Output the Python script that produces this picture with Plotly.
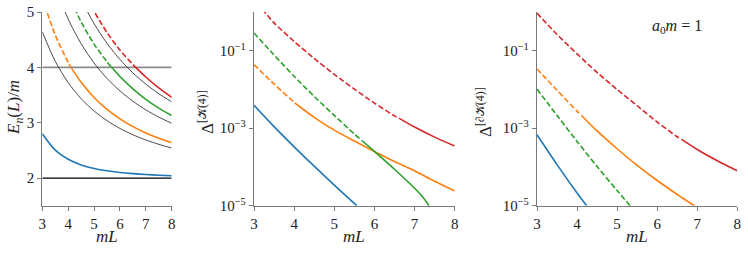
import numpy as np
import plotly.graph_objects as go

# ---------------- data ----------------
BLUE, ORANGE, GREEN, RED = "#1f77b4", "#ff7f0e", "#2ca02c", "#d62728"

# Left panel: E_n(L)/m
L_grid = [3.0, 3.5, 4.0, 4.5, 5.0, 5.5, 6.0, 6.5, 7.0, 7.5, 8.0]
free1 = [4.642, 4.110, 3.724, 3.435, 3.212, 3.037, 2.896, 2.782, 2.688, 2.609, 2.543]
free2_L = [3.5, 4.0, 4.5, 5.0, 5.5, 6.0, 6.5, 7.0, 7.5, 8.0]
free2 = [5.457, 4.872, 4.427, 4.078, 3.800, 3.574, 3.388, 3.232, 3.101, 2.989]
free3_L = [4.0, 4.5, 5.0, 5.5, 6.0, 6.5, 7.0, 7.5, 8.0]
free3 = [5.797, 5.234, 4.791, 4.434, 4.142, 3.900, 3.697, 3.524, 3.377]
thresholds = [2.0, 4.0]

E_blue = [2.800, 2.504, 2.338, 2.237, 2.173, 2.130, 2.100, 2.079, 2.063, 2.051, 2.042]
E_orange_dash_L = [3.0, 3.5, 4.0, 4.11]
E_orange_dash = [5.254, 4.584, 4.090, 4.000]
E_orange_L = [4.11, 4.5, 5.0, 5.5, 6.0, 6.5, 7.0, 7.5, 8.0]
E_orange = [4.000, 3.729, 3.454, 3.240, 3.069, 2.929, 2.815, 2.720, 2.640]
E_green_dash_L = [4.0, 4.5, 5.0, 5.5, 5.68]
E_green_dash = [5.336, 4.821, 4.420, 4.101, 4.000]
E_green_L = [5.68, 6.0, 6.5, 7.0, 7.5, 8.0]
E_green = [4.000, 3.834, 3.612, 3.423, 3.264, 3.130]
E_red_dash_L = [4.5, 5.0, 5.5, 6.0, 6.5, 6.61]
E_red_dash = [5.496, 5.016, 4.630, 4.314, 4.051, 4.000]
E_red_L = [6.61, 7.0, 7.5, 8.0]
E_red = [4.000, 3.826, 3.628, 3.460]

# Middle panel: log10 Delta^[K(4)]
mid_blue_L = [3.0, 3.5, 4.0, 4.5, 5.0, 5.56]
mid_blue_log = [-2.41, -2.96, -3.48, -3.98, -4.47, -5.0]
mid_orange_dash_L = [3.0, 3.5, 4.0, 4.11]
mid_orange_dash_log = [-1.36, -1.86, -2.33, -2.42]
mid_orange_L = [4.11, 4.5, 5.0, 5.5, 6.0, 6.5, 7.0, 7.5, 8.0]
mid_orange_log = [-2.42, -2.72, -3.05, -3.33, -3.60, -3.86, -4.10, -4.37, -4.62]
mid_green_dash_L = [3.0, 3.5, 4.0, 4.5, 5.0, 5.5, 5.68]
mid_green_dash_log = [-0.54, -1.11, -1.66, -2.18, -2.67, -3.15, -3.31]
mid_green_L = [5.68, 6.0, 6.5, 7.0, 7.2, 7.36]
mid_green_log = [-3.31, -3.60, -4.06, -4.55, -4.77, -5.0]
mid_red_dash_L = [3.2, 3.5, 4.0, 4.5, 5.0, 5.5, 6.0, 6.5, 6.61]
mid_red_dash_log = [0.08, -0.28, -0.76, -1.20, -1.61, -1.99, -2.35, -2.68, -2.74]
mid_red_L = [6.61, 7.0, 7.5, 8.0]
mid_red_log = [-2.74, -2.97, -3.23, -3.46]

# Right panel: log10 Delta^[dK(4)]
rgt_blue_L = [3.0, 3.5, 4.0, 4.24]
rgt_blue_log = [-3.17, -3.94, -4.67, -5.0]
rgt_orange_dash_L = [3.0, 3.5, 4.0, 4.11]
rgt_orange_dash_log = [-1.47, -2.02, -2.56, -2.67]
rgt_orange_L = [4.11, 4.5, 5.0, 5.5, 6.0, 6.5, 6.93]
rgt_orange_log = [-2.67, -3.07, -3.53, -3.96, -4.35, -4.71, -5.0]
rgt_green_dash_L = [3.0, 3.5, 4.0, 4.5, 5.0, 5.35]
rgt_green_dash_log = [-1.99, -2.67, -3.34, -3.99, -4.61, -5.03]
rgt_red_dash_L = [3.0, 3.5, 4.0, 4.5, 5.0, 5.5, 6.0, 6.5, 6.61]
rgt_red_dash_log = [-0.03, -0.58, -1.08, -1.56, -2.00, -2.42, -2.84, -3.22, -3.29]
rgt_red_L = [6.61, 7.0, 7.5, 8.0]
rgt_red_log = [-3.29, -3.55, -3.84, -4.10]

x_ticks = [3, 4, 5, 6, 7, 8]
left_y_ticks = [2, 3, 4, 5]
log_ticks = [1e-5, 1e-3, 1e-1]
log_tick_text = ["10<sup>−5</sup>", "10<sup>−3</sup>", "10<sup>−1</sup>"]

# ---------------- figure ----------------
W, H = 748, 255
FONT = "Liberation Serif, DejaVu Serif, serif"
AX = "#7a7a7a"
DASH = "5.5px,2.5px"
LW = 1.6

fig = go.Figure()


def add(x, y, color, panel, dash="solid", width=LW):
    fig.add_trace(go.Scatter(
        x=x, y=y, mode="lines", xaxis="x" + panel, yaxis="y" + panel,
        line=dict(color=color, width=width, dash=dash, shape="spline", smoothing=0.8),
        showlegend=False, hoverinfo="skip"))


def to_val(logs):
    return list(10.0 ** np.array(logs))


# left panel
add([3, 8], [thresholds[0]] * 2, "#000000", "", width=1.2)
add([3, 8], [thresholds[1]] * 2, "#8a8a8a", "", width=1.6)
add(L_grid, free1, "#2a2a2a", "", width=0.85)
add(free2_L, free2, "#2a2a2a", "", width=0.85)
add(free3_L, free3, "#2a2a2a", "", width=0.85)
add(L_grid, E_blue, BLUE, "")
add(E_orange_dash_L, E_orange_dash, ORANGE, "", DASH)
add(E_orange_L, E_orange, ORANGE, "")
add(E_green_dash_L, E_green_dash, GREEN, "", DASH)
add(E_green_L, E_green, GREEN, "")
add(E_red_dash_L, E_red_dash, RED, "", DASH)
add(E_red_L, E_red, RED, "")

# middle panel
add(mid_blue_L, to_val(mid_blue_log), BLUE, "2")
add(mid_orange_dash_L, to_val(mid_orange_dash_log), ORANGE, "2", DASH)
add(mid_orange_L, to_val(mid_orange_log), ORANGE, "2")
add(mid_green_dash_L, to_val(mid_green_dash_log), GREEN, "2", DASH)
add(mid_green_L, to_val(mid_green_log), GREEN, "2")
add(mid_red_dash_L, to_val(mid_red_dash_log), RED, "2", DASH)
add(mid_red_L, to_val(mid_red_log), RED, "2")

# right panel
add(rgt_blue_L, to_val(rgt_blue_log), BLUE, "3")
add(rgt_orange_dash_L, to_val(rgt_orange_dash_log), ORANGE, "3", DASH)
add(rgt_orange_L, to_val(rgt_orange_log), ORANGE, "3")
add(rgt_green_dash_L, to_val(rgt_green_dash_log), GREEN, "3", DASH)
add(rgt_red_dash_L, to_val(rgt_red_dash_log), RED, "3", DASH)
add(rgt_red_L, to_val(rgt_red_log), RED, "3")

ydom = [1 - 205.7 / H, 1 - 12 / H]
xdoms = [[42.3 / W, 171.7 / W], [254 / W, 454.7 / W], [537 / W, 737.3 / W]]

common = dict(showline=True, linecolor=AX, linewidth=1.3, ticks="outside",
              ticklen=4, tickwidth=1, tickcolor=AX, showgrid=False, automargin=False,
              zeroline=False, tickfont=dict(family=FONT, size=15, color="#222"))

layout = dict(width=W, height=H, margin=dict(l=0, r=0, t=0, b=0, pad=0),
              template="none",
              paper_bgcolor="white", plot_bgcolor="white", showlegend=False)
for i, (sfx, dom) in enumerate(zip(["", "2", "3"], xdoms)):
    layout["xaxis" + sfx] = dict(common, domain=dom, range=[3, 8], tickvals=x_ticks,
                                 anchor="y" + sfx)
    if i == 0:
        layout["yaxis" + sfx] = dict(common, domain=ydom, range=[1.5, 5],
                                     tickvals=left_y_ticks, anchor="x" + sfx)
    else:
        layout["yaxis" + sfx] = dict(common, domain=ydom, type="log", range=[-5, 0],
                                     tickvals=log_ticks, ticktext=log_tick_text,
                                     anchor="x" + sfx)
fig.update_layout(**layout)

tf = dict(family=FONT, size=17, color="#222")
ann = []


def label(x, y, text, angle=0, size=17):
    ann.append(dict(x=x / W, y=1 - y / H, xref="paper", yref="paper", text=text,
                    textangle=angle, showarrow=False, xanchor="center",
                    yanchor="middle", font=dict(tf, size=size)))


for xc in [107, 354.3, 637.1]:
    label(xc, 236, "<i>mL</i>")
label(15, 108, "<i>E<sub>n</sub></i>(<i>L</i>)/<i>m</i>", -90)
label(206, 112, "Δ<sup>[𝒦(4)]</sup>", -90)
label(484, 112, "Δ<sup>[∂𝒦(4)]</sup>", -90)
label(677, 27, "<i>a</i><sub>0</sub><i>m</i> = 1", 0, 16)
fig.update_layout(annotations=ann)

fig.write_html("out.html", config={"displayModeBar": False},
               post_script="document.body.style.margin='0';")
